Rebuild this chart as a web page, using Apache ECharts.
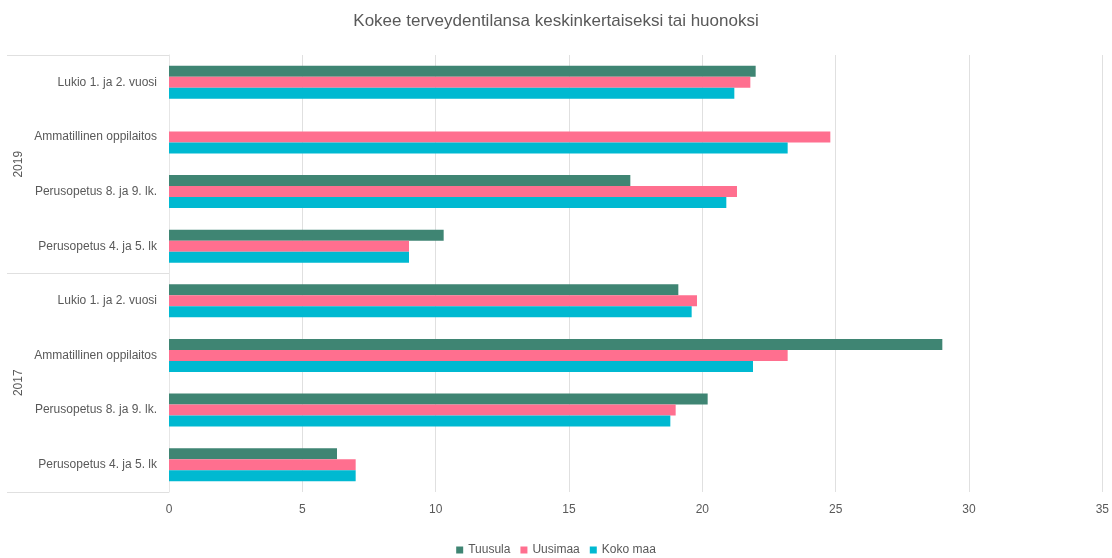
<!DOCTYPE html>
<html>
<head>
<meta charset="utf-8">
<script src="https://cdn.jsdelivr.net/npm/echarts@6/dist/echarts.min.js"></script>
<style>
  html, body { margin: 0; padding: 0; background: #fff; }
  #chart { width: 1112px; height: 558px; }
</style>
</head>
<body>
<div id="chart"></div>
<script>
// categories, top to bottom
var categories = [
  "Lukio 1. ja 2. vuosi",
  "Ammatillinen oppilaitos",
  "Perusopetus 8. ja 9. lk.",
  "Perusopetus 4. ja 5. lk",
  "Lukio 1. ja 2. vuosi ",
  "Ammatillinen oppilaitos ",
  "Perusopetus 8. ja 9. lk. ",
  "Perusopetus 4. ja 5. lk "
];
var years = ["2019", "2017"];
var xTicks = [0, 5, 10, 15, 20, 25, 30, 35];

var tuusula = [22.0, null, 17.3, 10.3, 19.1, 29.0, 20.2, 6.3];
var uusimaa = [21.8, 24.8, 21.3, 9.0, 19.8, 23.2, 19.0, 7.0];
var kokoMaa = [21.2, 23.2, 20.9, 9.0, 19.6, 21.9, 18.8, 7.0];

var font = "'Liberation Sans Narrow', 'Liberation Sans', sans-serif";
var grey = "#595959";
var lineGrey = "#e0e0e0";

var chart = echarts.init(document.getElementById("chart"));

function barSeries(name, data, color) {
  return {
    name: name,
    type: "bar",
    data: data,
    barWidth: 11,
    barGap: "0%",
    itemStyle: { color: color },
    animation: false
  };
}

chart.setOption({
  animation: false,
  textStyle: { fontFamily: font },
  title: {
    text: "Kokee terveydentilansa keskinkertaiseksi tai huonoksi",
    left: "center",
    top: 8,
    textStyle: { fontFamily: font, fontSize: 17, fontWeight: "normal", color: grey }
  },
  legend: {
    bottom: -3,
    left: "center",
    icon: "rect",
    itemWidth: 7,
    itemHeight: 7,
    itemGap: 10,
    textStyle: { fontFamily: font, fontSize: 12, color: grey },
    data: ["Tuusula", "Uusimaa", "Koko maa"]
  },
  grid: { left: 169, right: 5, top: 55, bottom: 66 },
  xAxis: {
    type: "value",
    min: xTicks[0],
    max: xTicks[xTicks.length - 1],
    interval: 5,
    axisLine: { show: false },
    axisTick: { show: false },
    axisLabel: { color: grey, fontSize: 12, fontFamily: font, margin: 12 },
    splitLine: { lineStyle: { color: lineGrey, width: 1 } }
  },
  yAxis: [
    {
      type: "category",
      inverse: true,
      position: "left",
      data: categories,
      axisLine: { show: true, lineStyle: { color: "#e6e6e6" } },
      axisTick: { show: false },
      axisLabel: {
        color: grey,
        fontSize: 12,
        fontFamily: font,
        margin: 12,
        formatter: function (v) { return v.trim(); }
      }
    },
    {
      type: "category",
      inverse: true,
      position: "left",
      data: years,
      axisLine: { show: false },
      axisTick: { show: true, interval: 0, length: 162, lineStyle: { color: lineGrey } },
      axisLabel: { color: grey, fontSize: 12, fontFamily: font, rotate: 90, margin: 144 },
      splitLine: { show: false }
    }
  ],
  series: [
    barSeries("Tuusula", tuusula, "#3f8573"),
    barSeries("Uusimaa", uusimaa, "#ff6f8f"),
    barSeries("Koko maa", kokoMaa, "#00b9d1")
  ]
});
</script>
</body>
</html>
